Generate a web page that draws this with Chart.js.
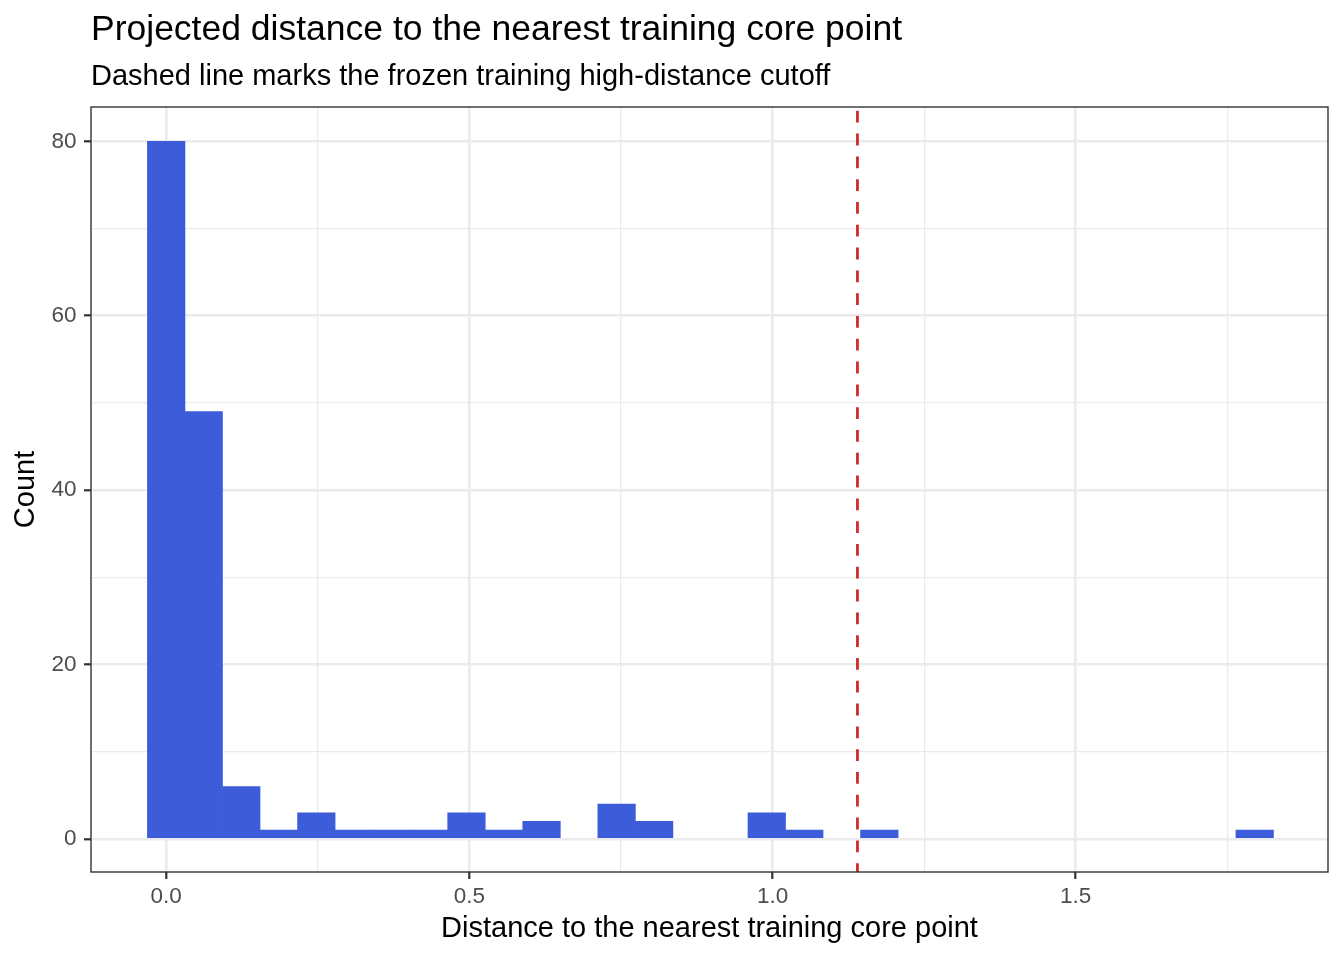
<!DOCTYPE html>
<html>
<head>
<meta charset="utf-8">
<script src="https://cdn.jsdelivr.net/npm/chart.js@4.4.1/dist/chart.umd.min.js"></script>
<style>
  html, body { margin: 0; padding: 0; background: #ffffff; }
  #wrap { width: 1344px; height: 960px; position: relative; }
</style>
</head>
<body>
<div id="wrap"><canvas id="c" width="1344" height="960"></canvas></div>
<script>
// ---- data ----
const titleText = 'Projected distance to the nearest training core point';
const subtitleText = 'Dashed line marks the frozen training high-distance cutoff';
const xAxisTitle = 'Distance to the nearest training core point';
const yAxisTitle = 'Count';

// histogram bin centers (bin width 0.0619)
const binCenters = [0.0000, 0.0619, 0.1238, 0.1857, 0.2476, 0.3095, 0.3714, 0.4333, 0.4952, 0.5571,
                    0.6190, 0.6809, 0.7428, 0.8047, 0.8666, 0.9285, 0.9904, 1.0523, 1.1142, 1.1761,
                    1.2380, 1.2999, 1.3618, 1.4237, 1.4856, 1.5475, 1.6094, 1.6713, 1.7332, 1.7951];
const binCounts = [80, 49, 6, 1, 3, 1, 1, 1, 3, 1,
                   2, 0, 4, 2, 0, 0, 3, 1, 0, 1,
                   0, 0, 0, 0, 0, 0, 0, 0, 0, 1];
const cutoff = 1.14;

const xTicks = [0, 0.25, 0.5, 0.75, 1.0, 1.25, 1.5, 1.75];
const xTickLabels = ['0.0', '', '0.5', '', '1.0', '', '1.5', ''];
const yTicks = [0, 10, 20, 30, 40, 50, 60, 70, 80];
const yTickLabels = ['0', '', '20', '', '40', '', '60', '', '80'];

const FONT = "'Liberation Sans', Arial, Helvetica, sans-serif";
const BAR_COLOR = '#3D5CDA';

function isMinor(labels, ticks, v) {
  const i = ticks.indexOf(v);
  return i < 0 || labels[i] === '';
}

const overlay = {
  id: 'overlay',
  afterDatasetsDraw(chart) {
    const ctx = chart.ctx;
    const a = chart.chartArea;
    const xs = chart.scales.x;
    // dashed cutoff line
    const px = xs.getPixelForValue(cutoff);
    ctx.save();
    ctx.beginPath();
    ctx.rect(a.left, a.top, a.right - a.left, a.bottom - a.top);
    ctx.clip();
    ctx.strokeStyle = '#D12A2E';
    ctx.lineWidth = 2.8;
    ctx.setLineDash([11.8, 11.0]);
    ctx.lineDashOffset = 19.0;
    ctx.beginPath();
    ctx.moveTo(px, a.top);
    ctx.lineTo(px, a.bottom);
    ctx.stroke();
    ctx.restore();
    // panel border
    ctx.save();
    ctx.strokeStyle = '#333333';
    ctx.lineWidth = 1.4;
    ctx.strokeRect(a.left, a.top, a.right - a.left, a.bottom - a.top);
    ctx.restore();
  },
  afterDraw(chart) {
    const ctx = chart.ctx;
    const a = chart.chartArea;
    ctx.save();
    ctx.fillStyle = '#000000';
    ctx.textAlign = 'left';
    ctx.textBaseline = 'alphabetic';
    ctx.font = '35.5px ' + FONT;
    ctx.fillText(titleText, a.left, 40);
    ctx.font = '29px ' + FONT;
    ctx.fillText(subtitleText, a.left, 84.5);
    ctx.restore();
  }
};

new Chart(document.getElementById('c'), {
  type: 'bar',
  data: {
    datasets: [{
      data: binCenters.map((x, i) => ({ x: x, y: binCounts[i] })),
      backgroundColor: (c) => (c.raw && c.raw.y === 0 ? 'rgba(0,0,0,0)' : BAR_COLOR),
      inflateAmount: (c) => (c.raw && c.raw.y === 0 ? 0 : 'auto'),
      borderWidth: 0,
      barPercentage: 1.0,
      categoryPercentage: 1.0
    }]
  },
  options: {
    responsive: false,
    animation: false,
    devicePixelRatio: 1,
    layout: { padding: { top: 107, right: 16, bottom: 0, left: 0 } },
    plugins: {
      legend: { display: false },
      tooltip: { enabled: false },
      title: { display: false }
    },
    scales: {
      x: {
        type: 'linear',
        offset: false,
        min: -0.124,
        max: 1.916,
        afterFit(scale) { scale.height = 88; },
        afterBuildTicks(scale) { scale.ticks = xTicks.map(v => ({ value: v })); },
        border: { display: false },
        grid: {
          offset: false,
          color: '#EBEBEB',
          lineWidth: (c) => (c.tick && isMinor(xTickLabels, xTicks, c.tick.value) ? 1.3 : 2.6),
          tickColor: (c) => (c.tick && isMinor(xTickLabels, xTicks, c.tick.value) ? 'rgba(0,0,0,0)' : '#333333'),
          tickWidth: 2.2,
          tickLength: 7,
          drawTicks: true
        },
        ticks: {
          autoSkip: false,
          maxRotation: 0,
          padding: 6.5,
          color: '#4D4D4D',
          font: { family: FONT, size: 22.5, lineHeight: 1 },
          callback: (v) => { const i = xTicks.indexOf(v); return i >= 0 ? xTickLabels[i] : ''; }
        },
        title: {
          display: true,
          text: xAxisTitle,
          color: '#000000',
          font: { family: FONT, size: 29, lineHeight: 1 },
          padding: { top: 0, bottom: 16.5 }
        }
      },
      y: {
        type: 'linear',
        min: -3.8,
        max: 83.95,
        afterFit(scale) { scale.width = 91; },
        afterBuildTicks(scale) { scale.ticks = yTicks.map(v => ({ value: v })); },
        border: { display: false },
        grid: {
          color: '#EBEBEB',
          lineWidth: (c) => (c.tick && isMinor(yTickLabels, yTicks, c.tick.value) ? 1.3 : 2.6),
          tickColor: (c) => (c.tick && isMinor(yTickLabels, yTicks, c.tick.value) ? 'rgba(0,0,0,0)' : '#333333'),
          tickWidth: 2.2,
          tickLength: 7,
          drawTicks: true
        },
        ticks: {
          autoSkip: false,
          padding: 7.5,
          color: '#4D4D4D',
          font: { family: FONT, size: 22.5, lineHeight: 1 },
          callback: (v) => { const i = yTicks.indexOf(v); return i >= 0 ? yTickLabels[i] : ''; }
        },
        title: {
          display: true,
          text: yAxisTitle,
          color: '#000000',
          font: { family: FONT, size: 29, lineHeight: 1 },
          padding: { top: 11, bottom: 0 }
        }
      }
    }
  },
  plugins: [overlay]
});
</script>
</body>
</html>
